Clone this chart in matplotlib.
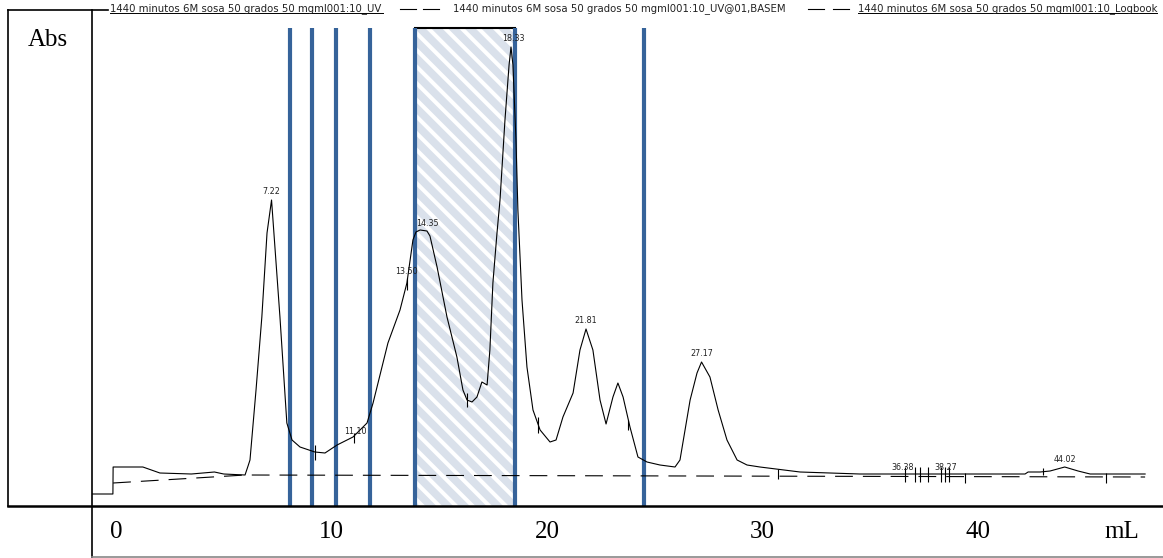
import matplotlib
matplotlib.use("Agg")
import matplotlib.pyplot as plt
from matplotlib.lines import Line2D
from matplotlib.patches import Rectangle

# chromatogram trace (volume in mL, absorbance in arbitrary units)
vol_ml = [-1.11, -0.14, -0.13, 1.25, 2.04, 3.5, 4.57, 5.0, 5.99, 6.13, 6.22, 6.50, 6.77, 7.01, 7.22,
          7.33, 7.61, 7.80, 7.93, 8.17, 8.54, 9.23, 9.70, 10.26, 11.0, 11.65, 11.93, 12.39, 12.62,
          13.18, 13.50, 13.78, 13.92, 14.11, 14.43, 14.57, 14.90, 15.36, 15.82, 16.10, 16.29, 16.52,
          16.75, 16.98, 17.22, 17.35, 17.49, 17.68, 17.82, 18.05, 18.24, 18.33, 18.42, 18.56, 18.65,
          18.84, 19.07, 19.35, 19.68, 20.14, 20.42, 20.74, 21.21, 21.53, 21.81, 22.13, 22.46, 22.74,
          23.06, 23.29, 23.53, 23.85, 24.22, 24.64, 25.24, 25.94, 26.17, 26.64, 26.96, 27.17, 27.56,
          27.94, 28.35, 28.82, 29.28, 29.88, 31.74, 34.52, 39.16, 42.18, 42.32, 42.88, 43.34, 44.02,
          44.64, 45.20, 47.75]
absorb = [12, 12, 39, 39, 33, 32, 34, 32, 31, 40, 46, 116, 189, 273, 306,
          273, 189, 126, 83, 66, 59, 54, 53, 61, 69, 83, 103, 143, 163,
          196, 223, 266, 274, 276, 275, 270, 239, 189, 149, 116, 106, 104,
          109, 124, 121, 156, 223, 273, 306, 386, 441, 459, 441, 366, 296,
          206, 139, 96, 76, 64, 66, 89, 113, 156, 177, 156, 106, 82,
          109, 123, 109, 79, 49, 44, 41, 39, 46, 106, 133, 144, 129,
          96, 66, 46, 41, 39, 34, 32, 32, 32, 34, 34, 35, 39,
          35, 32, 32]

# baseline (dashed)
base_ml = [-0.13, 6.0, 47.75]
base_abs = [23, 31, 29]

# peak labels
peak_names = ["7.22", "11.10", "13.50", "14.35", "18.33", "21.81", "27.17", "36.38", "38.27", "44.02"]
peak_x = [7.22, 11.10, 13.50, 14.45, 18.45, 21.81, 27.17, 36.50, 38.50, 44.02]
peak_y = [310, 70, 230, 278, 463, 181, 148, 34, 34, 42]

# integration marks
mark_x = [9.23, 11.04, 13.50, 16.29, 19.58, 23.76, 30.72, 36.61, 37.08, 37.31, 37.68, 38.28,
          38.47, 38.65, 39.40, 43.02, 45.94]
mark_lo = [46, 63, 216, 99, 73, 76, 27, 24, 24, 24, 24, 24, 24, 24, 23, 31, 23]
mark_hi = [61, 73, 228, 113, 89, 86, 37, 39, 39, 39, 39, 39, 39, 39, 33, 38, 33]

# fraction cut lines and collected pool
cut_ml = [8.07, 9.09, 10.21, 11.79, 13.87, 18.52, 24.50]
pool_ml = (13.87, 18.52)

xticks = [0, 10, 20, 30, 40]
legend_names = ["1440 minutos 6M sosa 50 grados 50 mgml001:10_UV",
                "1440 minutos 6M sosa 50 grados 50 mgml001:10_UV@01,BASEM",
                "1440 minutos 6M sosa 50 grados 50 mgml001:10_Logbook"]

W, H = 1163, 558
plt.rcParams['hatch.color'] = 'white'
plt.rcParams['hatch.linewidth'] = 2.9
fig = plt.figure(figsize=(W / 100, H / 100), dpi=100)


def fx(px):
    return px / W


def fy(py):
    return 1 - py / H


ax = fig.add_axes([fx(92), fy(506), fx(1163 - 92), (506 - 10) / H])
ax.set_xlim(-1.11, 48.58)
ax.set_ylim(0, 496)
for s in ax.spines.values():
    s.set_visible(False)
ax.set_yticks([])

blue = '#36639a'
top = 478
ax.add_patch(Rectangle((pool_ml[0], 0), pool_ml[1] - pool_ml[0], top, facecolor='#dae1eb',
                       edgecolor='white', lw=0, hatch='\\\\', zorder=1))
ax.plot(pool_ml, [top, top], color='black', lw=1.5, zorder=3)
ax.vlines(cut_ml, 0, top, colors=blue, lw=3, zorder=4)

ax.plot(base_ml, base_abs, color='black', lw=0.8, dashes=(16, 9), zorder=5)
ax.plot(vol_ml, absorb, color='black', lw=0.8, zorder=5)
ax.vlines(mark_x, mark_lo, mark_hi, colors='black', lw=0.8, zorder=5)
for name, x, y in zip(peak_names, peak_x, peak_y):
    ax.text(x, y, name, ha='center', va='bottom', fontsize=5.8, color='#222222', zorder=6)

ax.set_xticks(xticks)
ax.set_xticklabels([str(t) for t in xticks], fontfamily='Liberation Serif', fontsize=18)
ax.tick_params(axis='x', length=0, pad=11)

# frame lines
lk = dict(color='black', lw=1.2, transform=fig.transFigure)
fig.add_artist(Line2D([fx(8), fx(8)], [fy(10), fy(506)], **lk))
fig.add_artist(Line2D([fx(92), fx(92)], [fy(10), fy(558)], **lk))
fig.add_artist(Line2D([fx(8), fx(108)], [fy(10), fy(10)], **lk))
fig.add_artist(Line2D([fx(8), fx(1163)], [fy(506), fy(506)], color='black', lw=1.8,
                      transform=fig.transFigure))
fig.add_artist(Line2D([fx(92), fx(1163)], [fy(557), fy(557)], color='#888888', lw=1.2,
                      transform=fig.transFigure))

fig.text(fx(48), fy(40), "Abs", ha='center', va='center', fontfamily='Liberation Serif', fontsize=18)
fig.text(fx(1122), fy(532), "mL", ha='center', va='center', fontfamily='Liberation Serif', fontsize=18)

# legend at top
tk = dict(fontsize=7.3, color='#222222', va='baseline', ha='left')
fig.text(fx(110), fy(11), legend_names[0], **tk)
fig.add_artist(Line2D([fx(110), fx(383)], [fy(13), fy(13)], color='black', lw=0.7,
                      transform=fig.transFigure))
for x0 in (400, 423):
    fig.add_artist(Line2D([fx(x0), fx(x0 + 16)], [fy(9), fy(9)], color='black', lw=0.8,
                          transform=fig.transFigure))
fig.text(fx(453), fy(11), legend_names[1], **tk)
for x0 in (808, 833):
    fig.add_artist(Line2D([fx(x0), fx(x0 + 16)], [fy(9), fy(9)], color='black', lw=0.8,
                          transform=fig.transFigure))
fig.text(fx(858), fy(11), legend_names[2], **tk)
fig.add_artist(Line2D([fx(858), fx(1157)], [fy(13), fy(13)], color='black', lw=0.7,
                      transform=fig.transFigure))

fig.savefig("out.png", dpi=100)
